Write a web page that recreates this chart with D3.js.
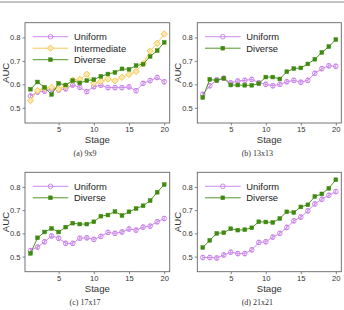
<!DOCTYPE html>
<html><head><meta charset="utf-8">
<script src="https://cdn.jsdelivr.net/npm/d3@7"></script>
<style>
html,body{margin:0;padding:0;background:#fff;}
svg{display:block;}
</style></head>
<body>
<script>
const stages = [1,2,3,4,5,6,7,8,9,10,11,12,13,14,15,16,17,18,19,20];
const xTicks = [5,10,15,20];
const yTicks = [0.5,0.6,0.7,0.8];

// (a) 9x9
const uniform9 = [0.550,0.567,0.571,0.580,0.576,0.581,0.597,0.587,0.569,0.590,0.596,0.586,0.586,0.586,0.589,0.573,0.604,0.616,0.629,0.611];
const intermediate9 = [0.531,0.573,0.583,0.587,0.579,0.593,0.617,0.621,0.643,0.605,0.613,0.623,0.615,0.630,0.642,0.655,0.688,0.742,0.775,0.815];
const diverse9 = [0.579,0.610,0.587,0.557,0.604,0.597,0.616,0.606,0.616,0.620,0.634,0.644,0.651,0.666,0.664,0.680,0.686,0.719,0.744,0.779];
// (b) 13x13
const uniform13 = [0.557,0.594,0.619,0.626,0.606,0.614,0.617,0.621,0.607,0.600,0.594,0.600,0.611,0.617,0.609,0.617,0.647,0.667,0.679,0.677];
const diverse13 = [0.544,0.621,0.616,0.626,0.597,0.597,0.596,0.596,0.603,0.631,0.631,0.623,0.654,0.667,0.670,0.687,0.707,0.736,0.761,0.791];
// (c) 17x17
const uniform17 = [0.526,0.541,0.564,0.589,0.579,0.557,0.557,0.579,0.581,0.574,0.587,0.604,0.600,0.606,0.619,0.614,0.627,0.631,0.650,0.664];
const diverse17 = [0.514,0.581,0.606,0.621,0.606,0.627,0.644,0.640,0.640,0.650,0.674,0.679,0.694,0.677,0.693,0.707,0.719,0.741,0.777,0.810];
// (d) 21x21
const uniform21 = [0.496,0.496,0.494,0.507,0.519,0.513,0.513,0.529,0.561,0.564,0.584,0.600,0.626,0.654,0.670,0.697,0.727,0.747,0.764,0.780];
const diverse21 = [0.539,0.570,0.600,0.603,0.620,0.614,0.616,0.624,0.650,0.649,0.647,0.664,0.693,0.690,0.714,0.723,0.759,0.770,0.794,0.831];

const uniformErr = 0.009;

const panels = [
  {caption:"(a) 9x9", left:25, right:169.7, top:22.7, bottom:123,
   series:[{name:"Uniform", values:uniform9, kind:"uniform"},
           {name:"Intermediate", values:intermediate9, kind:"intermediate"},
           {name:"Diverse", values:diverse9, kind:"diverse"}]},
  {caption:"(b) 13x13", left:197.3, right:341.3, top:22.7, bottom:123,
   series:[{name:"Uniform", values:uniform13, kind:"uniform"},
           {name:"Diverse", values:diverse13, kind:"diverse"}]},
  {caption:"(c) 17x17", left:25, right:169.7, top:172.3, bottom:271.7,
   series:[{name:"Uniform", values:uniform17, kind:"uniform"},
           {name:"Diverse", values:diverse17, kind:"diverse"}]},
  {caption:"(d) 21x21", left:197.3, right:341.3, top:172.3, bottom:271.7,
   series:[{name:"Uniform", values:uniform21, kind:"uniform"},
           {name:"Diverse", values:diverse21, kind:"diverse"}]}
];

const colors = {uniform:"#c77ee8", intermediate:"#f5c445", diverse:"#3f8a10"};
const sans = "'Liberation Sans', Arial, Helvetica, sans-serif";
const serif = "'Liberation Serif', 'Times New Roman', serif";

const svg = d3.select("body").append("svg").attr("width",344).attr("height",310);
svg.append("rect").attr("width",344).attr("height",310).attr("fill","#fff");
svg.append("line").attr("x1",0).attr("x2",344).attr("y1",2).attr("y2",2)
  .attr("stroke","#888").attr("stroke-width",1);

function drawMarker(g, kind, cx, cy) {
  const c = colors[kind];
  if (kind === "uniform") {
    g.append("circle").attr("cx",cx).attr("cy",cy).attr("r",2.3)
      .attr("fill","none").attr("stroke",c).attr("stroke-width",0.9);
  } else if (kind === "intermediate") {
    g.append("path").attr("d",`M${cx},${cy-3.2}L${cx+3.2},${cy}L${cx},${cy+3.2}L${cx-3.2},${cy}Z`)
      .attr("fill","#fbe7b0").attr("stroke",c).attr("stroke-width",0.9);
  } else {
    g.append("rect").attr("x",cx-1.9).attr("y",cy-1.9).attr("width",3.8).attr("height",3.8)
      .attr("fill",c).attr("stroke",c).attr("stroke-width",0.5);
  }
}

panels.forEach(p => {
  const x = d3.scaleLinear().domain([0.22,20.78]).range([p.left,p.right]);
  const y = d3.scaleLinear().domain([0.435,0.863]).range([p.bottom,p.top]);
  const g = svg.append("g");

  const xa = g.append("g").attr("transform",`translate(0,${p.bottom})`)
    .call(d3.axisBottom(x).tickValues(xTicks).tickSize(2.5).tickPadding(1.5).tickFormat(d3.format("d")));
  const ya = g.append("g").attr("transform",`translate(${p.left},0)`)
    .call(d3.axisLeft(y).tickValues(yTicks).tickSize(2.5).tickPadding(2).tickFormat(d3.format(".1f")));
  [xa,ya].forEach(a => {
    a.select(".domain").remove();
    a.selectAll(".tick line").attr("stroke","#666").attr("stroke-width",0.8);
    a.selectAll(".tick text").attr("fill","#333").style("font-family",sans).style("font-size","7.6px");
  });

  g.append("rect").attr("x",p.left).attr("y",p.top)
    .attr("width",p.right-p.left).attr("height",p.bottom-p.top)
    .attr("fill","none").attr("stroke","#666").attr("stroke-width",0.9);

  p.series.forEach(s => {
    const c = colors[s.kind];
    const line = d3.line().x((d,i)=>x(stages[i])).y(d=>y(d));
    g.append("path").datum(s.values).attr("d",line)
      .attr("fill","none").attr("stroke",c).attr("stroke-width",0.9);
    const mg = g.append("g");
    s.values.forEach((v,i) => {
      const cx = x(stages[i]), cy = y(v);
      if (s.kind === "uniform") {
        const y0 = y(v-uniformErr), y1 = y(v+uniformErr);
        mg.append("line").attr("x1",cx).attr("x2",cx).attr("y1",y0).attr("y2",y1)
          .attr("stroke",c).attr("stroke-width",0.8);
        [y0,y1].forEach(yy => mg.append("line").attr("x1",cx-1.5).attr("x2",cx+1.5)
          .attr("y1",yy).attr("y2",yy).attr("stroke",c).attr("stroke-width",0.8));
      }
      drawMarker(mg, s.kind, cx, cy);
    });
  });

  const lx0 = p.left + 7.7, lx1 = p.left + 43.3, tx = p.left + 49;
  p.series.forEach((s,i) => {
    const ly = p.top + 14 + i*11.5;
    g.append("line").attr("x1",lx0).attr("x2",lx1).attr("y1",ly).attr("y2",ly)
      .attr("stroke",colors[s.kind]).attr("stroke-width",0.9);
    drawMarker(g, s.kind, (lx0+lx1)/2, ly);
    g.append("text").attr("x",tx).attr("y",ly+3.3).text(s.name)
      .attr("fill","#222").style("font-family",sans).style("font-size","9.4px");
  });

  g.append("text").attr("x",(p.left+p.right)/2).attr("y",p.bottom+20)
    .attr("text-anchor","middle").text("Stage")
    .attr("fill","#333").style("font-family",sans).style("font-size","9.6px");
  const ly = (p.top+p.bottom)/2;
  g.append("text").attr("transform",`translate(${p.left-16.3},${ly}) rotate(-90)`)
    .attr("text-anchor","middle").text("AUC")
    .attr("fill","#333").style("font-family",sans).style("font-size","9.6px");

  g.append("text").attr("x",p.left+60).attr("y",p.bottom+33)
    .attr("text-anchor","middle").text(p.caption)
    .attr("fill","#333").style("font-family",serif).style("font-size","8px");
});
</script>
</body></html>
